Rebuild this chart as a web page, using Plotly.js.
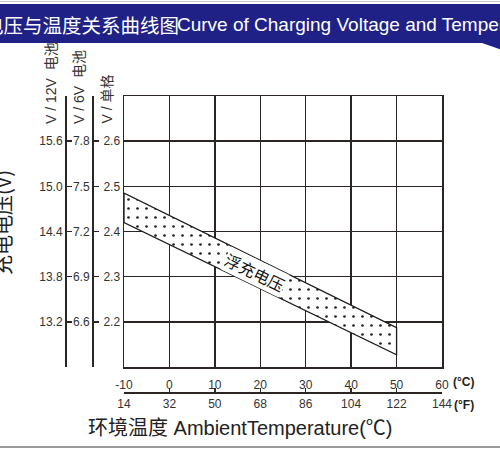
<!DOCTYPE html>
<html>
<head>
<meta charset="utf-8">
<script src="https://cdn.plot.ly/plotly-3.0.1.min.js"></script>
<style>html,body{margin:0;padding:0;background:#fff;}#chart{width:500px;height:450px;}</style>
</head>
<body>
<div id="chart"></div>
<script>
// ---- data ----
const tempC = [-10, 0, 10, 20, 30, 40, 50, 60];
const tempCLabels = ['-10', '0', '10', '20', '30', '40', '50', '60'];
const tempFLabels = ['14', '32', '50', '68', '86', '104', '122', '144'];
const cellTicks = [2.2, 2.3, 2.4, 2.5, 2.6];
const cellLabels = ['2.2', '2.3', '2.4', '2.5', '2.6'];
const v6Labels = ['6.6', '6.9', '7.2', '7.5', '7.8'];
const v12Labels = ['13.2', '13.8', '14.4', '15.0', '15.6'];
const cellRange = [2.1, 2.7];
const v6Range = [6.3, 8.1];
const v12Range = [12.6, 16.2];
const bandTemp = [-10, 50];
const bandUpper = [2.485, 2.187];
const bandLower = [2.42, 2.127];
const bandLabel = '浮充电压';

// ---- geometry helpers ----
const W = 500, H = 450, ML = 20, MR = 58, MT = 96, MB = 30;
const PW = W - ML - MR, PH = H - MT - MB;
const px = x => (x - ML) / PW;
const py = y => (H - MB - y) / PH;

const FONT = "'Liberation Sans', Arial, 'Noto Sans CJK SC', sans-serif";
const CJK = "'Noto Sans CJK SC', 'Liberation Sans', sans-serif";
const INK = '#2b2624';

const withEnds = (range, labels) => ({
  vals: [range[0], ...labels.map(parseFloat), range[1]],
  text: ['', ...labels, '']
});
const t12 = withEnds(v12Range, v12Labels);
const t6 = withEnds(v6Range, v6Labels);

const bandX = [bandTemp[0], bandTemp[1], bandTemp[1], bandTemp[0], bandTemp[0]];
const bandY = [bandUpper[0], bandUpper[1], bandLower[1], bandLower[0], bandUpper[0]];

const traces = [
  {x: [], y: [], xaxis: 'x', yaxis: 'y2', showlegend: false, hoverinfo: 'skip'},
  {x: [], y: [], xaxis: 'x', yaxis: 'y3', showlegend: false, hoverinfo: 'skip'},
  {x: [], y: [], xaxis: 'x2', yaxis: 'y', showlegend: false, hoverinfo: 'skip'},
  {
    x: bandX, y: bandY, xaxis: 'x', yaxis: 'y',
    mode: 'lines', fill: 'toself', fillcolor: 'white',
    fillpattern: {shape: '.', fgcolor: '#222', bgcolor: 'white', size: 9, solidity: 0.07},
    line: {color: '#1a1a1a', width: 1.3},
    showlegend: false, hoverinfo: 'skip'
  }
];

const tickFont = {family: FONT, size: 12, color: '#333'};
const axisLine = {showline: true, linecolor: INK, linewidth: 1.5};

const layout = {
  width: W, height: H,
  margin: {l: ML, r: MR, t: MT, b: MB, pad: 0},
  paper_bgcolor: 'white', plot_bgcolor: 'white',
  showlegend: false,
  font: {family: FONT, color: '#333'},
  xaxis: Object.assign({
    domain: [px(124), 1], anchor: 'y', range: [-10, 60],
    tickvals: tempC, ticktext: tempCLabels, ticks: '',
    showgrid: true, gridcolor: INK, gridwidth: 1.5, zeroline: false,
    mirror: true, tickfont: tickFont, ticklabelstandoff: 6
  }, axisLine),
  xaxis2: Object.assign({
    overlaying: 'x', anchor: 'free', position: py(392), side: 'bottom',
    range: [-10, 60], tickvals: tempC, ticktext: tempFLabels,
    ticks: 'inside', ticklen: 4, tickwidth: 1.5, tickcolor: INK,
    showgrid: false, zeroline: false, tickfont: tickFont
  }, axisLine),
  yaxis: Object.assign({
    domain: [py(367), 1], anchor: 'x', range: cellRange,
    tickvals: cellTicks, ticktext: cellLabels, ticks: '',
    showgrid: true, gridcolor: INK, gridwidth: 1.5, zeroline: false,
    mirror: true, tickfont: tickFont
  }, axisLine),
  yaxis2: Object.assign({
    overlaying: 'y', anchor: 'free', position: px(65), side: 'left',
    range: v12Range, tickvals: t12.vals, ticktext: t12.text,
    ticks: 'inside', ticklen: 5, tickwidth: 1.5, tickcolor: INK,
    showgrid: false, zeroline: false, tickfont: tickFont
  }, axisLine),
  yaxis3: Object.assign({
    overlaying: 'y', anchor: 'free', position: px(92), side: 'left',
    range: v6Range, tickvals: t6.vals, ticktext: t6.text,
    ticks: 'inside', ticklen: 5, tickwidth: 1.5, tickcolor: INK,
    showgrid: false, zeroline: false, tickfont: tickFont
  }, axisLine),
  shapes: [
    {type: 'path', xref: 'paper', yref: 'paper',
     path: `M${px(-5)},${py(4)} L${px(505)},${py(4)} L${px(505)},${py(51)} L${px(482)},${py(43)} L${px(-5)},${py(43)} Z`,
     fillcolor: '#1f2187', line: {width: 0}},
    {type: 'line', xref: 'paper', yref: 'paper', x0: px(0), x1: px(500), y0: py(1.5), y1: py(1.5),
     line: {color: '#c9c9d6', width: 1}},
    {type: 'line', xref: 'paper', yref: 'paper', x0: px(0), x1: px(500), y0: py(447), y1: py(447),
     line: {color: '#9a9a9a', width: 2}}
  ],
  annotations: [
    {text: '充电电压与温度关系曲线图', xref: 'paper', yref: 'paper', x: px(181), y: py(25),
     xanchor: 'right', yanchor: 'middle', showarrow: false,
     font: {family: CJK, size: 19.5, color: 'white'}},
    {text: 'Curve of Charging Voltage and Temperature', xref: 'paper', yref: 'paper', x: px(175), y: py(25),
     xanchor: 'left', yanchor: 'middle', showarrow: false,
     font: {family: FONT, size: 19, color: 'white'}},
    {text: '充电电压(V)', xref: 'paper', yref: 'paper', x: px(2), y: py(223),
     xanchor: 'center', yanchor: 'middle', textangle: -90, showarrow: false,
     font: {family: CJK, size: 20, color: '#222'}},
    {text: 'V / 12V  电池', xref: 'paper', yref: 'paper', x: px(51), y: py(126),
     xanchor: 'center', yanchor: 'bottom', textangle: -90, showarrow: false,
     font: {family: FONT, size: 14, color: '#333'}},
    {text: 'V / 6V  电池', xref: 'paper', yref: 'paper', x: px(79), y: py(126),
     xanchor: 'center', yanchor: 'bottom', textangle: -90, showarrow: false,
     font: {family: FONT, size: 14, color: '#333'}},
    {text: 'V / 单格', xref: 'paper', yref: 'paper', x: px(107), y: py(126),
     xanchor: 'center', yanchor: 'bottom', textangle: -90, showarrow: false,
     font: {family: FONT, size: 14, color: '#333'}},
    {text: '<b>(°C)</b>', xref: 'paper', yref: 'paper', x: px(451), y: py(382),
     xanchor: 'left', yanchor: 'middle', showarrow: false,
     font: {family: FONT, size: 12, color: '#222'}},
    {text: '<b>(°F)</b>', xref: 'paper', yref: 'paper', x: px(452), y: py(405),
     xanchor: 'left', yanchor: 'middle', showarrow: false,
     font: {family: FONT, size: 12, color: '#222'}},
    {text: '环境温度 AmbientTemperature(℃)', xref: 'paper', yref: 'paper', x: px(240), y: py(428),
     xanchor: 'center', yanchor: 'middle', showarrow: false,
     font: {family: FONT, size: 20, color: '#222'}},
    {text: bandLabel, xref: 'x', yref: 'y', x: 18.8, y: 2.311,
     xanchor: 'center', yanchor: 'middle', textangle: 26, showarrow: false,
     bgcolor: 'white', borderpad: 0,
     font: {family: CJK, size: 16, color: '#111'}}
  ]
};

Plotly.newPlot('chart', traces, layout, {staticPlot: true, displayModeBar: false});
</script>
</body>
</html>
